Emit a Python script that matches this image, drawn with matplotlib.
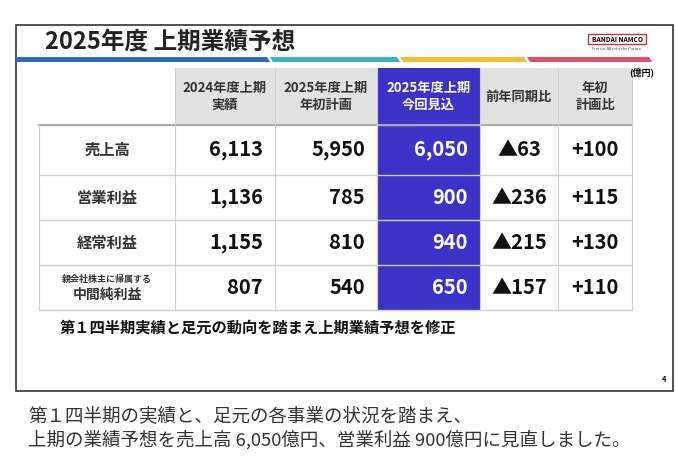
import matplotlib.pyplot as plt
from matplotlib.patches import Rectangle, Polygon

plt.rcParams['font.family'] = ['Noto Sans CJK JP', 'DejaVu Sans']

title = "2025年度 上期業績予想"
headers = ["2024年度上期\n実績", "2025年度上期\n年初計画", "2025年度上期\n今回見込", "前年同期比", "年初\n計画比"]
row_labels = ["売上高", "営業利益", "経常利益", "中間純利益"]
prev_actual = [6113, 1136, 1155, 807]
initial_plan = [5950, 785, 810, 540]
current_fc = [6050, 900, 940, 650]
yoy = [-63, -236, -215, -157]
vs_plan = [100, 115, 130, 110]

col_x = [39, 175, 275, 377, 480, 558, 632]
row_y = [68, 125, 175, 220, 265, 310]
highlight = "#3c32c8"
grid = "#d0d0d0"

fig = plt.figure(figsize=(6.78, 4.68), dpi=100)
ax = fig.add_axes([0, 0, 1, 1])
ax.set_xlim(0, 678)
ax.set_ylim(468, 0)
ax.axis('off')

# ramka slajdu
ax.add_patch(Rectangle((16, 25), 657, 366, fill=False, ec="#333333", lw=1.2))
ax.text(45, 42, title, fontsize=17, fontweight='bold', va='center', color="#222222")
# kolorowy pasek
for x0, x1, c in [(16, 270, "#2e6db4"), (270, 400, "#3ab5c0"), (400, 527, "#f0c030"), (527, 652, "#e0506a")]:
    ax.add_patch(Polygon([(x0, 57), (x1 - 3, 57), (x1, 62), (x0 + 3, 62)], closed=True, color=c, lw=0))
ax.add_patch(Rectangle((16, 57), 8, 5, color="#2e6db4", lw=0))
# logo
ax.add_patch(Rectangle((588, 34), 58, 10, fill=False, ec="#d03030", lw=1))
ax.text(617, 39, "BANDAI NAMCO", fontsize=4.8, fontweight='bold', ha='center', va='center')
ax.text(617, 49, "Fun for All into the Future", fontsize=3, ha='center', va='center', color="#444444")
ax.text(642, 72, "(億円)", fontsize=6.5, fontweight='bold', ha='center', va='center')

# nagłówki
for j, h in enumerate(headers):
    x0, x1 = col_x[j + 1], col_x[j + 2]
    fc = highlight if j == 2 else "#e2e2e2"
    ax.add_patch(Rectangle((x0, row_y[0]), x1 - x0, row_y[1] - row_y[0], color=fc, lw=0))
    ax.text((x0 + x1) / 2, (row_y[0] + row_y[1]) / 2, h, fontsize=9.5, fontweight='bold', ha='center',
            va='center', color="white" if j == 2 else "#333333", linespacing=1.2)
ax.add_patch(Rectangle((col_x[3], row_y[1]), col_x[4] - col_x[3], row_y[-1] - row_y[1], color=highlight, lw=0))

# siatka
for y in row_y[1:]:
    ax.plot([col_x[0], col_x[-1]], [y, y], color=grid, lw=1)
ax.plot([col_x[0], col_x[-1]], [row_y[1], row_y[1]], color="#aaaaaa", lw=1.5)
for x in col_x:
    ax.plot([x, x], [row_y[0] if x != col_x[0] else row_y[1], row_y[-1]], color=grid, lw=0.8)

fmt_yoy = lambda v: f"▲{-v}" if v < 0 else f"+{v}"
for i, lab in enumerate(row_labels):
    yc = (row_y[i + 1] + row_y[i + 2]) / 2
    if i == 3:
        ax.text(107, yc - 8, "親会社株主に帰属する", fontsize=6.5, fontweight='bold', ha='center', va='center', color="#333333")
        ax.text(107, yc + 7, lab, fontsize=10, fontweight='bold', ha='center', va='center', color="#333333")
    else:
        ax.text(107, yc, lab, fontsize=11, fontweight='bold', ha='center', va='center', color="#333333")
    vals = [f"{prev_actual[i]:,}", f"{initial_plan[i]:,}", f"{current_fc[i]:,}"]
    for j, v in enumerate(vals):
        ax.text(col_x[j + 2] - 12, yc, v, fontsize=14.5, fontweight='bold', ha='right', va='center',
                color="white" if j == 2 else "#111111")
    ax.text((col_x[4] + col_x[5]) / 2, yc, fmt_yoy(yoy[i]), fontsize=14.5, fontweight='bold', ha='center', va='center', color="#111111")
    ax.text((col_x[5] + col_x[6]) / 2, yc, f"+{vs_plan[i]}", fontsize=14.5, fontweight='bold', ha='center', va='center', color="#111111")

ax.text(60, 328, "第１四半期実績と足元の動向を踏まえ上期業績予想を修正", fontsize=11, fontweight='bold', va='center', color="#111111")
ax.text(666, 380, "4", fontsize=5.5, fontweight='bold', ha='right', va='center')

ax.text(28, 416, "第１四半期の実績と、足元の各事業の状況を踏まえ、", fontsize=13.3, va='center', color="#333333")
ax.text(28, 440, "上期の業績予想を売上高 6,050億円、営業利益 900億円に見直しました。", fontsize=13.3, va='center', color="#333333")

fig.savefig("out.png", dpi=100)
